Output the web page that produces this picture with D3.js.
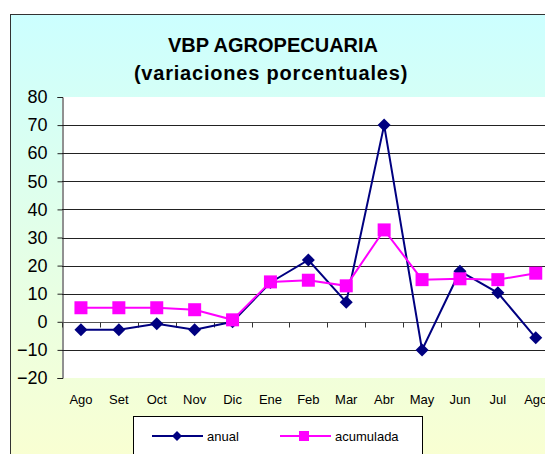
<!DOCTYPE html>
<html><head><meta charset="utf-8">
<script src="https://cdn.jsdelivr.net/npm/d3@7"></script>
<style>body{margin:0;background:#fff;}svg{display:block;font-family:"Liberation Sans",Arial,sans-serif;}</style>
</head><body>
<svg id="c" width="545" height="454"></svg>
<script>
const categories = ["Ago","Set","Oct","Nov","Dic","Ene","Feb","Mar","Abr","May","Jun","Jul","Ago2"];
const categoryLabels = ["Ago","Set","Oct","Nov","Dic","Ene","Feb","Mar","Abr","May","Jun","Jul","Ago"];
const anual = [-2.8,-2.8,-0.7,-2.8,0,14,22,7,70,-10,18,10.3,-5.7];
const acumulada = [5,5,5,4.3,0.7,14.2,14.8,12.8,32.7,15,15.3,15,17.3];
const yTicks = [-20,-10,0,10,20,30,40,50,60,70,80];
const gridValues = [-10,0,10,20,30,40,50,60,70];

const svg = d3.select("#c");
const defs = svg.append("defs");
const grad = defs.append("linearGradient").attr("id","bg").attr("x1",0).attr("y1",0).attr("x2",0).attr("y2",1);
grad.append("stop").attr("offset","0%").attr("stop-color","#ccffff");
grad.append("stop").attr("offset","100%").attr("stop-color","#ffffcc");

svg.append("rect").attr("x",10.5).attr("y",14.5).attr("width",600).attr("height",500)
  .attr("fill","url(#bg)").attr("stroke","#333").attr("stroke-width",1);

const L=62, R=62+37.9*13, T=97, B=378;
const x = d3.scaleBand().domain(categories).range([L,R]);
const y = d3.scaleLinear().domain([-20,80]).range([B,T]);

svg.append("rect").attr("x",L).attr("y",T).attr("width",R-L).attr("height",B-T).attr("fill","#fff");

// gridlines
svg.append("g").selectAll("line").data(gridValues).join("line")
  .attr("x1",L).attr("x2",R).attr("y1",d=>Math.round(y(d))+0.5).attr("y2",d=>Math.round(y(d))+0.5)
  .attr("stroke","#222").attr("stroke-width",1);

// y axis
const yAxis = svg.append("g").attr("transform",`translate(${L+0.5},0)`)
  .call(d3.axisLeft(y).tickValues(yTicks).tickSize(5).tickPadding(10).tickFormat(d3.format("d")));
yAxis.select(".domain").attr("stroke","#222");
yAxis.selectAll(".tick line").attr("stroke","#222");
yAxis.selectAll(".tick text").attr("font-size","18px").attr("fill","#000").attr("font-family","'Liberation Sans',Arial,sans-serif");

// x axis at 0
const y0 = Math.round(y(0))+0.5;
svg.append("line").attr("x1",L).attr("x2",R).attr("y1",y0).attr("y2",y0).attr("stroke","#555").attr("stroke-width",1);
svg.append("g").selectAll("line").data(categories).join("line")
  .attr("x1",d=>Math.round(x(d))+0.5).attr("x2",d=>Math.round(x(d))+0.5)
  .attr("y1",y0).attr("y2",y0+5).attr("stroke","#333");

// x labels
svg.append("g").selectAll("text").data(categories).join("text")
  .attr("x",d=>x(d)+x.bandwidth()/2).attr("y",404)
  .attr("text-anchor","middle").attr("font-size","13px").attr("fill","#000")
  .text((d,i)=>categoryLabels[i]);

const cx = d=>x(d)+x.bandwidth()/2;
const line = d3.line().x((d,i)=>cx(categories[i])).y(d=>y(d));

svg.append("path").datum(anual).attr("d",line).attr("fill","none").attr("stroke","#000080").attr("stroke-width",2);
svg.append("path").datum(acumulada).attr("d",line).attr("fill","none").attr("stroke","#ff00ff").attr("stroke-width",2);

const diamond = (px,py,s)=>`M${px},${py-s}L${px+s},${py}L${px},${py+s}L${px-s},${py}Z`;
svg.append("g").selectAll("path").data(anual).join("path")
  .attr("d",(d,i)=>diamond(cx(categories[i]),y(d),6.5)).attr("fill","#000080");
svg.append("g").selectAll("rect").data(acumulada).join("rect")
  .attr("x",(d,i)=>cx(categories[i])-6.5).attr("y",d=>y(d)-6.5).attr("width",13).attr("height",13).attr("fill","#ff00ff");

// title
svg.append("text").attr("x",273).attr("y",52).attr("text-anchor","middle").attr("font-size","20px").attr("font-weight","bold").text("VBP AGROPECUARIA");
svg.append("text").attr("x",271).attr("y",80).attr("text-anchor","middle").attr("font-size","20px").attr("font-weight","bold").attr("letter-spacing","0.8px").text("(variaciones porcentuales)");

// legend
const lg = svg.append("g");
lg.append("rect").attr("x",133.5).attr("y",416.5).attr("width",289).attr("height",60).attr("fill","#fff").attr("stroke","#000");
const ly=436;
lg.append("line").attr("x1",152).attr("x2",203).attr("y1",ly).attr("y2",ly).attr("stroke","#000080").attr("stroke-width",2);
lg.append("path").attr("d",diamond(177,ly,5)).attr("fill","#000080");
lg.append("text").attr("x",207).attr("y",ly+5).attr("font-size","13px").text("anual");
lg.append("line").attr("x1",280).attr("x2",331).attr("y1",ly).attr("y2",ly).attr("stroke","#ff00ff").attr("stroke-width",2);
lg.append("rect").attr("x",299).attr("y",ly-5).attr("width",10).attr("height",10).attr("fill","#ff00ff");
lg.append("text").attr("x",335).attr("y",ly+5).attr("font-size","13px").text("acumulada");
</script>
</body></html>
